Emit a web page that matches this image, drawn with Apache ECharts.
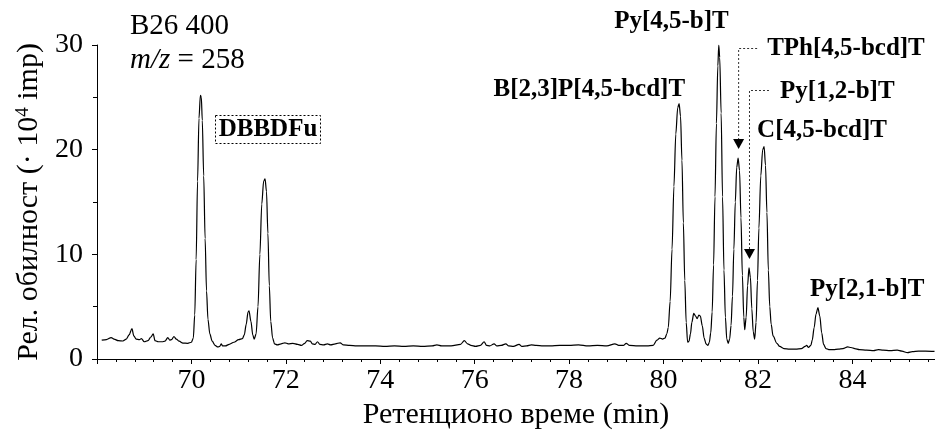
<!DOCTYPE html>
<html>
<head>
<meta charset="utf-8">
<script src="https://cdn.jsdelivr.net/npm/echarts@6/dist/echarts.min.js"></script>
<style>
  html, body { margin: 0; padding: 0; background: #fff; }
  #chart { width: 935px; height: 430px; }
</style>
</head>
<body>
<div id="chart"></div>
<script>
// Chromatogram B26 400, m/z = 258: [retention time (min), abundance (·10^4 imp)]
const traceEarly = [
  [68.10,1.80],[68.20,1.85],[68.30,2.05],[68.36,1.90],[68.45,1.75],[68.55,1.72],
  [68.62,1.90],[68.68,2.30],[68.74,2.90],[68.78,2.20],[68.83,1.90],[68.90,1.85],
  [68.94,1.95],[69.00,1.65],[69.08,1.75],[69.14,2.10],[69.19,2.40],[69.23,1.75],
  [69.30,1.65],[69.38,1.65],[69.44,1.70],[69.50,2.05],[69.54,1.80],[69.58,1.85],
  [69.63,2.15],[69.68,1.90],[69.74,1.70],[69.82,1.52],[69.92,1.50],[70.00,1.60],
  [70.04,2.00]
];
const traceDbbdfu = [
  [70.07,4.2],[70.10,9.5],[70.13,17.0],[70.16,23.0],[70.19,25.2],[70.21,25.0],
  [70.23,22.8],[70.26,17.5],[70.29,11.5],[70.32,6.5],[70.35,3.8],[70.39,2.4],
  [70.44,1.70],[70.50,1.30],[70.56,1.15],[70.60,1.20],[70.63,1.45],[70.66,1.25],
  [70.72,1.25],[70.80,1.40],[70.90,1.60],[71.00,1.85],[71.08,1.95],[71.12,2.3],
  [71.16,3.3],[71.20,4.5],[71.22,4.6],[71.26,3.6],[71.30,2.3],[71.33,1.9],
  [71.37,2.4],[71.41,5.0],[71.45,10.0],[71.49,14.8],[71.53,17.0],[71.56,17.2],
  [71.59,16.0],[71.62,12.0],[71.65,7.0],[71.68,3.6],[71.72,2.0],[71.76,1.45]
];
const traceMiddle = [
  [71.82,1.35],[71.90,1.45],[71.98,1.55],[72.05,1.45],[72.15,1.50],[72.25,1.40],
  [72.33,1.30],[72.40,1.50],[72.45,1.75],[72.52,1.70],[72.56,1.45],[72.62,1.40],
  [72.67,1.65],[72.72,1.40],[72.80,1.35],[72.88,1.45],[72.95,1.35],[73.05,1.45],
  [73.15,1.55],[73.22,1.35],[73.35,1.30],[73.50,1.25],[73.70,1.25],[73.90,1.25],
  [74.10,1.20],[74.30,1.25],[74.50,1.20],[74.70,1.25],[74.90,1.20],[75.10,1.25],
  [75.20,1.35],[75.30,1.25],[75.50,1.25],[75.70,1.40],[75.78,1.75],[75.85,1.45],
  [75.92,1.30],[76.02,1.20],[76.12,1.30],[76.20,1.65],[76.25,1.30],[76.32,1.25],
  [76.41,1.45],[76.47,1.25],[76.56,1.30],[76.66,1.45],[76.72,1.25],[76.82,1.20],
  [76.94,1.40],[77.00,1.20],[77.10,1.25],[77.20,1.35],[77.30,1.30],[77.45,1.25],
  [77.60,1.25],[77.80,1.30],[78.00,1.30],[78.20,1.35],[78.40,1.25],[78.60,1.30],
  [78.80,1.25],[78.97,1.45],[79.05,1.30],[79.15,1.30],[79.21,1.50],[79.28,1.30],
  [79.45,1.25],[79.65,1.25],[79.78,1.30],[79.86,1.80],[79.92,2.00],[79.98,1.90],
  [80.03,2.00],[80.07,2.40]
];
const traceCluster = [
  [80.10,3.0],[80.14,5.5],[80.18,10.5],[80.22,16.5],[80.26,21.5],[80.30,24.0],
  [80.33,24.4],[80.36,23.2],[80.39,19.0],[80.42,13.0],[80.45,7.5],[80.48,3.5],
  [80.51,1.6],[80.54,1.7],[80.57,2.4],[80.60,3.5],[80.64,4.35],[80.68,4.1],
  [80.71,3.85],[80.75,4.2],[80.78,4.1],[80.82,3.2],[80.86,2.0],[80.90,1.45],
  [80.94,1.3],[80.97,1.6],[81.00,2.5],[81.03,4.5],[81.06,9.0],[81.09,15.5],
  [81.12,22.5],[81.15,28.0],[81.17,30.0],[81.19,28.8],[81.22,23.5],[81.25,15.5],
  [81.28,8.5],[81.31,4.0],[81.34,1.9],[81.37,1.5],[81.40,1.9],[81.43,3.2],
  [81.46,6.0],[81.49,10.5],[81.52,15.0],[81.55,18.3],[81.58,19.2],[81.61,18.0],
  [81.64,13.5],[81.67,8.0],[81.70,4.0],[81.72,2.8],[81.75,4.0],[81.78,7.0],
  [81.81,8.7],[81.84,7.8],[81.87,4.8],[81.90,2.6],[81.93,1.9],[81.96,3.5],
  [81.99,7.5],[82.02,12.5],[82.06,17.5],[82.10,20.0],[82.13,20.3],[82.16,18.5],
  [82.19,14.0],[82.22,8.5],[82.25,5.0],[82.28,3.3],[82.32,2.2],[82.40,1.5],
  [82.46,1.2]
];
const traceLate = [
  [82.55,1.00],[82.67,0.95],[82.80,0.95],[82.92,1.00],[83.00,1.20],[83.03,1.30],
  [83.07,1.10],[83.12,1.30],[83.15,1.8],[83.19,3.0],[83.23,4.3],[83.27,4.9],
  [83.31,4.1],[83.35,2.5],[83.39,1.4],[83.44,1.00],[83.50,0.90],[83.60,0.90],
  [83.70,0.95],[83.80,1.00],[83.90,1.15],[83.97,1.10],[84.05,1.00],[84.15,0.90],
  [84.30,0.85],[84.45,0.80],[84.55,0.90],[84.65,0.85],[84.80,0.80],[84.95,0.85],
  [85.05,0.75],[85.17,0.60],[85.27,0.70],[85.40,0.75],[85.55,0.75],[85.74,0.72]
];

const xTickLabels = [70, 72, 74, 76, 78, 80, 82, 84];
const yTickLabels = [0, 10, 20, 30];

// Identified compounds: name, apex retention time, apex height
const peakNames = ['DBBDFu', 'B[2,3]P[4,5-bcd]T', 'Py[4,5-b]T', 'TPh[4,5-bcd]T', 'Py[1,2-b]T', 'C[4,5-bcd]T', 'Py[2,1-b]T'];
const peakTimes = [70.19, 80.33, 81.17, 81.58, 81.81, 82.13, 83.27];
const peakHeights = [25.2, 24.4, 30.0, 19.2, 8.7, 20.3, 4.9];

const trace = [...traceEarly, ...traceDbbdfu, ...traceMiddle, ...traceCluster, ...traceLate];

const serif = 'Liberation Serif, Times New Roman, serif';
const chart = echarts.init(document.getElementById('chart'), null, { renderer: 'canvas' });

chart.setOption({
  animation: false,
  backgroundColor: '#fff',
  grid: { left: 97, right: 0, top: 45, bottom: 71, outerBoundsMode: 'none', containLabel: false },
  xAxis: {
    type: 'value',
    min: 68,
    max: 85.75,
    interval: 2,
    name: 'Ретенционо време (min)',
    nameLocation: 'middle',
    nameGap: 31,
    nameTextStyle: { fontFamily: serif, fontSize: 30, color: '#000' },
    axisLine: { show: true, lineStyle: { color: '#000', width: 1 } },
    axisTick: { show: true, length: 5, lineStyle: { color: '#000' } },
    minorTick: { show: true, splitNumber: 5, length: 3, lineStyle: { color: '#000' } },
    splitLine: { show: false },
    axisLabel: {
      fontFamily: serif, fontSize: 28, color: '#000', margin: 8,
      showMinLabel: false, showMaxLabel: false,
      formatter: v => (xTickLabels.includes(Math.round(v)) ? String(Math.round(v)) : '')
    }
  },
  yAxis: {
    type: 'value',
    min: 0,
    max: 30,
    interval: 10,
    name: 'Рел. обилност (· 10{sup|4} imp)',
    nameLocation: 'middle',
    nameRotate: 90,
    nameGap: 48,
    nameTextStyle: {
      fontFamily: serif, fontSize: 30, color: '#000',
      rich: { sup: { fontFamily: serif, fontSize: 19, color: '#000', verticalAlign: 'top', padding: [0, 0, 13, 0] } }
    },
    axisLine: { show: true, lineStyle: { color: '#000', width: 1 } },
    axisTick: { show: true, length: 5, lineStyle: { color: '#000' } },
    minorTick: { show: true, splitNumber: 2, length: 4, lineStyle: { color: '#000' } },
    splitLine: { show: false },
    axisLabel: {
      fontFamily: serif, fontSize: 28, color: '#000', margin: 14,
      formatter: v => (yTickLabels.includes(v) ? String(v) : '')
    }
  },
  series: [{
    type: 'line',
    data: trace,
    showSymbol: false,
    smooth: 0.3,
    smoothMonotone: 'x',
    lineStyle: { color: '#000', width: 1.2 },
    z: 3
  }]
});

// Compound labels and leader arrows, anchored to the peak apexes
function apex(i) {
  return chart.convertToPixel({ gridIndex: 0 }, [peakTimes[i], peakHeights[i]]);
}
const bold = { fontFamily: serif, fontSize: 25, fontWeight: 'bold', fill: '#000' };
const graphics = [];

graphics.push({
  type: 'text', left: 130, top: 12,
  style: { text: 'B26 400', fontFamily: serif, fontSize: 29, fill: '#000' }
});
graphics.push({
  type: 'text', left: 130, top: 46,
  style: {
    text: '{i|m/z} = 258', fontFamily: serif, fontSize: 29, fill: '#000',
    rich: { i: { fontFamily: serif, fontSize: 29, fontStyle: 'italic', fill: '#000' } }
  }
});

// DBBDFu in a dotted frame
graphics.push({
  type: 'rect', shape: { x: 215.5, y: 115.5, width: 105, height: 28 },
  style: { fill: 'none', stroke: '#000', lineWidth: 1, lineDash: [2, 2] }
});
graphics.push({
  type: 'text', x: 268, y: 130,
  style: Object.assign({ text: peakNames[0], align: 'center', verticalAlign: 'middle' }, bold)
});

// labels placed beside their peaks: [index, dx from apex, y, align]
const labelLayout = [
  [1, 6, 90, 'right'],
  [2, 10, 22, 'right'],
  [3, 29, 49, 'left'],
  [4, 31, 92, 'left'],
  [5, -7, 131, 'left'],
  [6, -8, 290, 'left']
];
labelLayout.forEach(([i, dx, y, align]) => {
  const p = apex(i);
  graphics.push({
    type: 'text', x: p[0] + dx, y: y,
    style: Object.assign({ text: peakNames[i], align: align, verticalAlign: 'middle' }, bold)
  });
});

// dotted leaders with arrowheads for the two crowded peaks: [index, leader y, leader end x offset]
const arrowLayout = [[3, 48, 19], [4, 90, 20]];
arrowLayout.forEach(([i, ly, ex]) => {
  const p = apex(i);
  const tipY = p[1] - 9;
  graphics.push({
    type: 'polyline',
    shape: { points: [[p[0] + ex, ly + 0.5], [p[0] + 0.5, ly + 0.5], [p[0] + 0.5, tipY - 9]] },
    style: { fill: 'none', stroke: '#333', lineWidth: 1, lineDash: [2, 2] }
  });
  graphics.push({
    type: 'polygon',
    shape: { points: [[p[0] - 5, tipY - 10], [p[0] + 6, tipY - 10], [p[0] + 0.5, tipY]] },
    style: { fill: '#000' }
  });
});

chart.setOption({ graphic: graphics });
</script>
</body>
</html>
